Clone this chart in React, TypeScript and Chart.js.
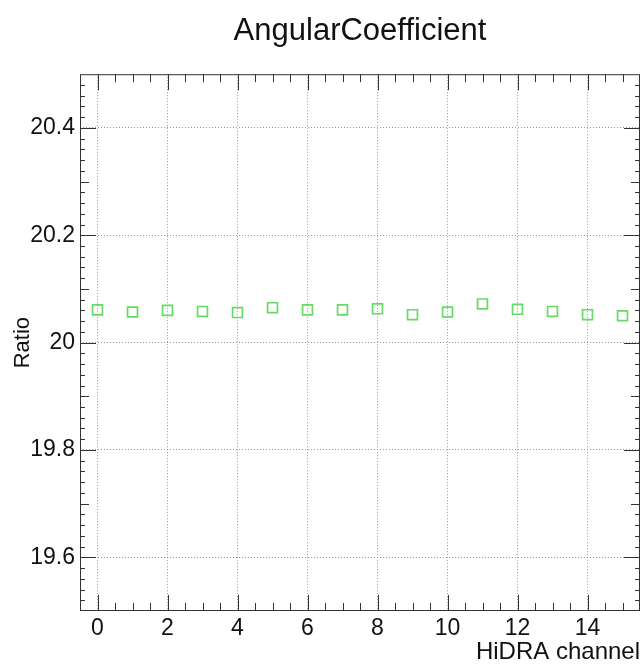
import React, { useEffect, useRef } from 'react';
import { Chart, registerables } from 'chart.js';

Chart.register(...registerables);

const channels = [0, 1, 2, 3, 4, 5, 6, 7, 8, 9, 10, 11, 12, 13, 14, 15];
const ratios = [
  20.061, 20.057, 20.06, 20.058, 20.056, 20.065, 20.061, 20.061,
  20.063, 20.052, 20.057, 20.072, 20.062, 20.058, 20.052, 20.05,
];
const xTickValues = [0, 2, 4, 6, 8, 10, 12, 14];
const yTickValues = [19.6, 19.8, 20, 20.2, 20.4];
const chartTitle = 'AngularCoefficient';
const xTitle = 'HiDRA channel';
const yTitle = 'Ratio';

const FONT = '"Liberation Sans", Arial, Helvetica, sans-serif';

const frameTicks = {
  id: 'frameTicks',
  beforeDatasetsDraw(chart: any) {
    const { ctx, chartArea, scales } = chart;
    const { left, right, top, bottom } = chartArea;
    const x = scales.x;
    const y = scales.y;
    ctx.save();
    ctx.strokeStyle = '#333';
    ctx.lineWidth = 1;
    ctx.strokeRect(left + 0.5, top + 0.5, right - left - 1, bottom - top - 1);
    ctx.beginPath();
    for (let k = -1; k <= 31; k++) {
      const v = k * 0.5;
      if (v <= x.min || v >= x.max) continue;
      const px = Math.round(x.getPixelForValue(v)) + 0.5;
      const major = k % 4 === 0;
      const len = major ? 16 : 8;
      ctx.moveTo(px, bottom);
      ctx.lineTo(px, bottom - len);
      ctx.moveTo(px, top);
      ctx.lineTo(px, top + len);
    }
    for (let k = 1; k < 50; k++) {
      const v = 19.5 + k * 0.02;
      const py = Math.round(y.getPixelForValue(v)) + 0.5;
      const len = k % 10 === 5 ? 16 : k % 5 === 0 ? 9 : 5;
      ctx.moveTo(left, py);
      ctx.lineTo(left + len, py);
      ctx.moveTo(right, py);
      ctx.lineTo(right - len, py);
    }
    ctx.stroke();
    ctx.restore();
  },
};

export default function App() {
  const ref = useRef<HTMLCanvasElement>(null);
  useEffect(() => {
    document.body.style.margin = '0';
    Chart.defaults.font.family = FONT;
    const chart = new Chart(ref.current!, {
      type: 'scatter',
      data: {
        datasets: [
          {
            data: channels.map((c, i) => ({ x: c, y: ratios[i] })),
            pointStyle: 'rect',
            pointRadius: 7,
            borderColor: '#66da66',
            backgroundColor: 'rgba(0,0,0,0)',
            borderWidth: 1.7,
          },
        ],
      },
      options: {
        responsive: false,
        animation: false,
        layout: { autoPadding: false, padding: { left: 0, right: 3, top: 0, bottom: 0 } },
        plugins: {
          legend: { display: false },
          tooltip: { enabled: false },
          title: {
            display: true,
            text: chartTitle,
            fullSize: false,
            color: '#111',
            font: { size: 31, weight: 'normal', family: FONT },
            padding: { top: 13, bottom: 24 },
          },
        },
        scales: {
          x: {
            type: 'linear',
            min: -0.5,
            max: 15.5,
            afterBuildTicks: (s: any) => {
              s.ticks = xTickValues.map((v) => ({ value: v }));
            },
            afterFit: (s: any) => {
              s.height = 57;
              s.paddingLeft = 0;
              s.paddingRight = 0;
            },
            grid: { color: '#999', drawTicks: false, lineWidth: 1 },
            border: { display: false, dash: [1, 2] },
            ticks: {
              padding: 4,
              color: '#111',
              font: { size: 23, family: FONT },
              maxRotation: 0,
              autoSkip: false,
              callback: (v: any) => String(v),
            },
            title: {
              display: true,
              text: xTitle,
              align: 'end',
              color: '#111',
              font: { size: 24, family: FONT },
              padding: { top: 0, bottom: 1 },
            },
          },
          y: {
            type: 'linear',
            min: 19.5,
            max: 20.5,
            afterBuildTicks: (s: any) => {
              s.ticks = yTickValues.map((v) => ({ value: v }));
            },
            afterFit: (s: any) => {
              s.width = 80;
              s.paddingTop = 0;
              s.paddingBottom = 0;
            },
            grid: { color: '#999', drawTicks: false, lineWidth: 1 },
            border: { display: false, dash: [1, 2] },
            ticks: {
              padding: 5,
              color: '#111',
              font: { size: 23, family: FONT },
              autoSkip: false,
              callback: (v: any) => String(parseFloat(Number(v).toFixed(1))),
            },
            title: {
              display: true,
              text: yTitle,
              color: '#111',
              font: { size: 22, family: FONT },
              padding: { top: 10, bottom: 0 },
            },
          },
        },
      },
      plugins: [frameTicks],
    } as any);
    return () => chart.destroy();
  }, []);
  return (
    <div style={{ width: 643, height: 668, background: '#fff' }}>
      <canvas ref={ref} width={643} height={668} style={{ display: 'block' }} />
    </div>
  );
}
